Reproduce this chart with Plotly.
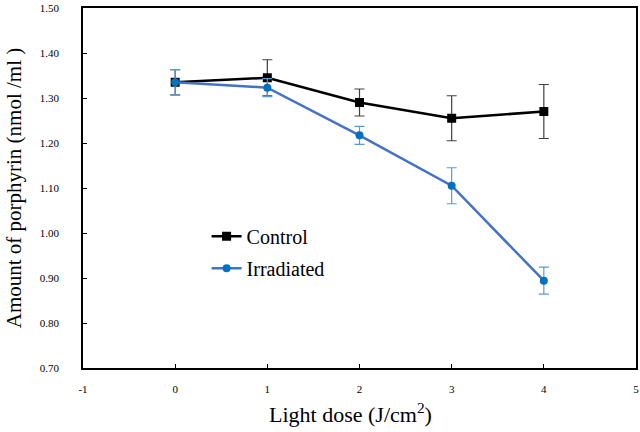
import plotly.graph_objects as go

dose = [0, 1, 2, 3, 4]
control = [1.335, 1.345, 1.290, 1.255, 1.270]
control_err = [0.028, 0.040, 0.030, 0.050, 0.060]
irradiated = [1.335, 1.323, 1.217, 1.105, 0.894]
irradiated_err = [0.028, 0.020, 0.020, 0.040, 0.030]

x_ticks = [-1, 0, 1, 2, 3, 4, 5]
y_ticks = [0.70, 0.80, 0.90, 1.00, 1.10, 1.20, 1.30, 1.40, 1.50]

FONT = "Liberation Serif, Times New Roman, serif"

fig = go.Figure()
fig.add_trace(go.Scatter(
    x=dose, y=control, name="Control", mode="lines+markers", legendgroup="c",
    line=dict(color="black", width=2.5),
    marker=dict(symbol="square", size=9, color="black"),
    error_y=dict(type="data", array=control_err, color="#404040", thickness=1.2, width=5),
))
fig.add_trace(go.Scatter(
    x=dose, y=irradiated, name="Irradiated", mode="lines+markers", legendgroup="i",
    line=dict(color="#4472c4", width=2.5),
    marker=dict(symbol="circle", size=8, color="#0070c0"),
    error_y=dict(type="data", array=irradiated_err, color="#5b9bd5", thickness=1.2, width=5),
))

fig.update_layout(
    width=640, height=432,
    margin=dict(l=83, r=4, t=8, b=64, autoexpand=False),
    paper_bgcolor="white", plot_bgcolor="white",
    font=dict(family=FONT, color="black"),
    showlegend=True,
    legend=dict(x=0.2235, y=0.42, xanchor="left", yanchor="top",
                font=dict(size=20, family=FONT), bgcolor="rgba(0,0,0,0)",
                itemwidth=30, tracegroupgap=3),
    xaxis=dict(
        range=[-1, 5], tickvals=x_ticks, ticktext=[str(v) for v in x_ticks],
        ticks="inside", ticklen=4, tickcolor="black",
        showline=True, linecolor="black", linewidth=1.5, mirror=True,
        showgrid=False, zeroline=False,
        tickfont=dict(size=11, family=FONT), ticklabelstandoff=10,
    ),
    yaxis=dict(
        range=[0.70, 1.50], tickvals=y_ticks, ticktext=[f"{v:.2f}" for v in y_ticks],
        ticks="inside", ticklen=4, tickcolor="black",
        showline=True, linecolor="black", linewidth=1.5, mirror=True,
        showgrid=False, zeroline=False,
        tickfont=dict(size=11, family=FONT), ticklabelstandoff=20,
        title=dict(text="Amount of porphyrin (nmol /ml )", font=dict(size=21, family=FONT), standoff=12),
    ),
    annotations=[dict(
        text="Light dose (J/cm<sup>2</sup>)", xref="paper", yref="paper",
        x=0.483, y=-0.125, xanchor="center", yanchor="middle", showarrow=False,
        font=dict(size=22, family=FONT),
    )],
)

fig.write_html("out.html", config={"displayModeBar": False},
               post_script="document.body.style.margin='0';")
